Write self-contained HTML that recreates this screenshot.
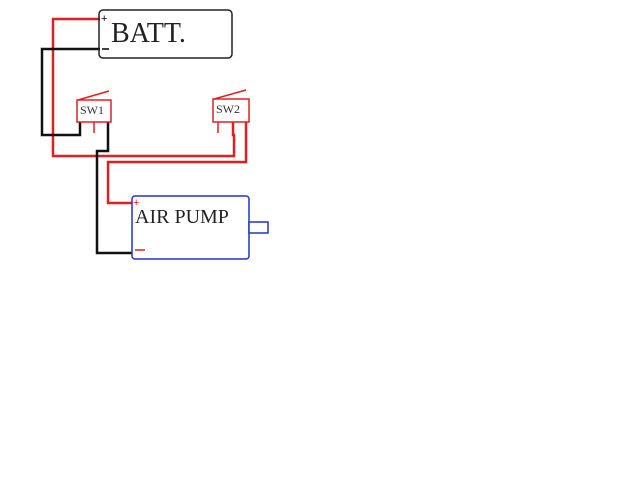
<!DOCTYPE html>
<html><head><style>
html,body{margin:0;padding:0;background:#fff;width:640px;height:480px;overflow:hidden}
</style></head><body>
<svg width="640" height="480" xmlns="http://www.w3.org/2000/svg" style="position:absolute;left:0;top:0">
<g fill="none" stroke-width="2.5" stroke-linejoin="miter">
<polyline points="100,19 53,19 53,156 234,156 234,135 233,135 233,122" stroke="#e02020"/>
<polyline points="246,122 246,162 108,162 108,203 132,203" stroke="#e02020"/>
<polyline points="100,49 42,49 42,135 80,135 80,122" stroke="#111"/>
<polyline points="108,122 108,151 97,151 97,253 132,253" stroke="#111"/>
</g>
<rect x="99" y="10" width="133" height="48" rx="4" fill="none" stroke="#222" stroke-width="1.5"/>
<text x="101" y="22" font-family="Liberation Sans, sans-serif" font-size="11" fill="#000">+</text>
<line x1="102" y1="49" x2="109" y2="49" stroke="#000" stroke-width="1.5"/>
<text x="111" y="42" font-family="Liberation Serif, serif" font-size="28" fill="#222">BATT.</text>
<rect x="77" y="100" width="34" height="22" fill="#fff" stroke="#e02020" stroke-width="1.5"/>
<line x1="78" y1="100" x2="109" y2="91" stroke="#e02020" stroke-width="1.5"/>
<line x1="94" y1="122" x2="94" y2="133" stroke="#e02020" stroke-width="1.5"/>
<text x="80" y="114" font-family="Liberation Serif, serif" font-size="12" fill="#333">SW1</text>
<rect x="213" y="99" width="36" height="23" fill="#fff" stroke="#e02020" stroke-width="1.5"/>
<line x1="214" y1="99" x2="246" y2="90" stroke="#e02020" stroke-width="1.5"/>
<line x1="218" y1="122" x2="218" y2="133" stroke="#e02020" stroke-width="1.5"/>
<text x="216" y="113" font-family="Liberation Serif, serif" font-size="12" fill="#333">SW2</text>
<rect x="132" y="196" width="117" height="63" rx="3" fill="#fff" stroke="#2233cc" stroke-width="1.5"/>
<rect x="249" y="222" width="19" height="11" fill="#fff" stroke="#2233cc" stroke-width="1.5"/>
<text x="133" y="206" font-family="Liberation Sans, sans-serif" font-size="11" fill="#e02020">+</text>
<line x1="135" y1="250" x2="145" y2="250" stroke="#e02020" stroke-width="1.5"/>
<text x="135" y="223" font-family="Liberation Serif, serif" font-size="20" fill="#222">AIR PUMP</text>
</svg>
</body></html>
